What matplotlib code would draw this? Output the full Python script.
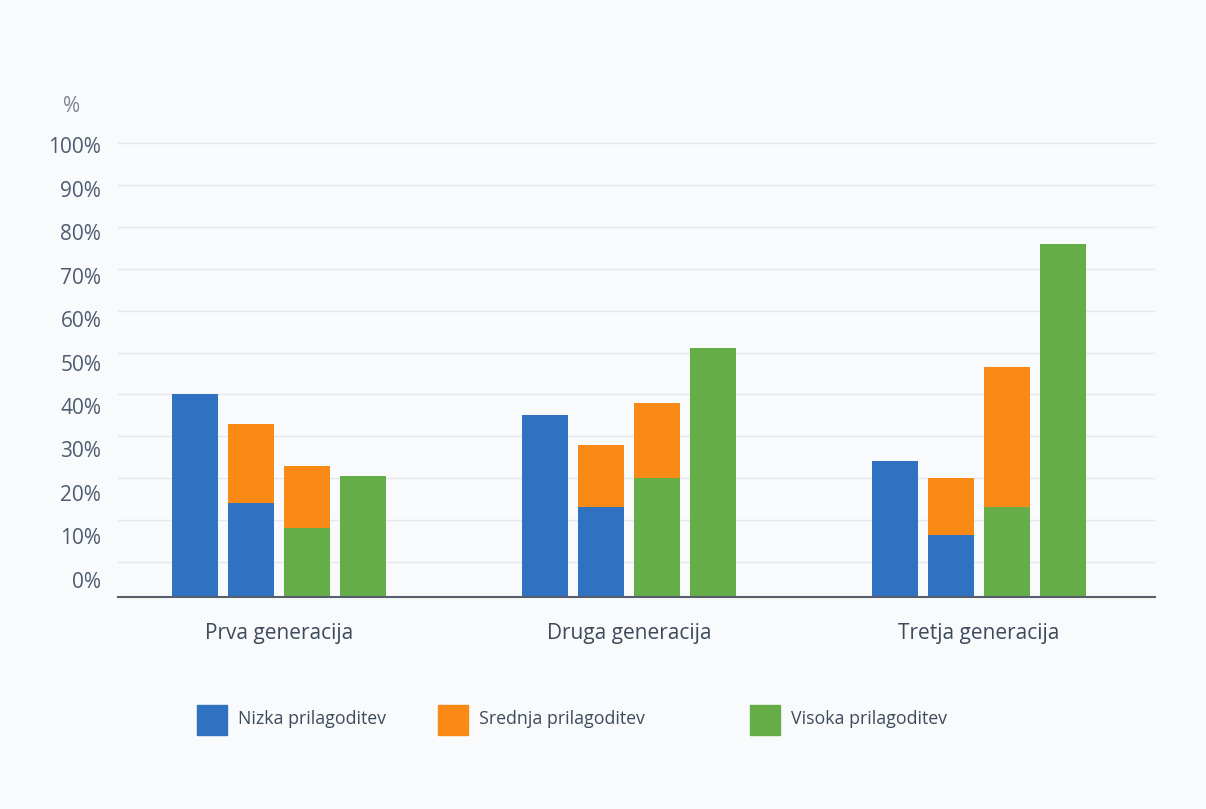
"""Prilagoditev po generacijah - grouped / stacked bar chart."""

import matplotlib.pyplot as plt
import numpy as np
from matplotlib.patches import Rectangle

plt.rcParams["font.family"] = ["Open Sans", "DejaVu Sans"]

generations = ["Prva generacija", "Druga generacija", "Tretja generacija"]
legend_labels = ["Nizka prilagoditev", "Srednja prilagoditev", "Visoka prilagoditev"]

# bar 1: nizka only
nizka = [40, 35, 24]
# bar 2: nizka (bottom) + srednja (top)
bar2_nizka = [14, 13, 6.5]
bar2_total = [33, 28, 20]
# bar 3: visoka (bottom) + srednja (top)
bar3_visoka = [8, 20, 13]
bar3_total = [23, 38, 46.5]
# bar 4: visoka only
visoka = [20.5, 51, 76]

y_ticks = list(range(0, 101, 10))

BLUE = "#2F72C1"
ORANGE = "#F98A16"
GREEN = "#65AE47"
BG = "#F9FAFB"
GRID = "#E4E7EB"
TEXT = "#4E5B70"

BASE = -8.4  # the axis line sits below the 0% gridline
step = 0.16
width = 0.13

fig = plt.figure(figsize=(12.06, 8.09), dpi=100, facecolor=BG)
ax = fig.add_axes([118 / 1206, 1 - 597 / 809, (1155 - 118) / 1206, (597 - 139) / 809])
ax.set_facecolor(BG)

x = np.arange(len(generations))
nizka = np.array(nizka)
bar2_nizka = np.array(bar2_nizka)
bar2_total = np.array(bar2_total)
bar3_visoka = np.array(bar3_visoka)
bar3_total = np.array(bar3_total)
visoka = np.array(visoka)

ax.bar(x - 1.5 * step, nizka - BASE, width, bottom=BASE, color=BLUE, zorder=3)
ax.bar(x - 0.5 * step, bar2_nizka - BASE, width, bottom=BASE, color=BLUE, zorder=3)
ax.bar(x - 0.5 * step, bar2_total - bar2_nizka, width, bottom=bar2_nizka, color=ORANGE, zorder=3)
ax.bar(x + 0.5 * step, bar3_visoka - BASE, width, bottom=BASE, color=GREEN, zorder=3)
ax.bar(x + 0.5 * step, bar3_total - bar3_visoka, width, bottom=bar3_visoka, color=ORANGE, zorder=3)
ax.bar(x + 1.5 * step, visoka - BASE, width, bottom=BASE, color=GREEN, zorder=3)

ax.set_xlim(-0.46, 2.503)
ax.set_ylim(BASE, 101)

# gridlines on major ticks, labels on minor ticks (drift slightly downward as in the original)
ax.set_yticks(y_ticks)
ax.set_yticklabels([])
ax.tick_params(axis="y", which="major", length=0)
ax.yaxis.grid(True, color=GRID, linewidth=1.0, zorder=0)
label_pos = [t - 0.5 - (100 - t) * 0.038 for t in y_ticks]
ax.set_yticks(label_pos, [f"{t}%" for t in y_ticks], minor=True)
ax.tick_params(axis="y", which="minor", length=0, pad=12, labelsize=15, labelcolor=TEXT)

ax.set_xticks(x, generations)
ax.tick_params(axis="x", length=0, pad=19, labelsize=15, labelcolor="#3D4A5C")

for side in ["top", "right", "left"]:
    ax.spines[side].set_visible(False)
ax.spines["bottom"].set_color("#56606D")
ax.spines["bottom"].set_linewidth(1.5)
ax.spines["bottom"].set_zorder(4)

fig.text(72 / 1206, 1 - 106 / 809, "%", ha="center", va="center", fontsize=15, color="#7C8696")

# legend, drawn by hand to keep the uneven spacing
legend_x = [197, 438, 750]
for lx, label, color in zip(legend_x, legend_labels, [BLUE, ORANGE, GREEN]):
    fig.patches.append(Rectangle((lx / 1206, 1 - 735 / 809), 30 / 1206, 30 / 809,
                                 transform=fig.transFigure, color=color))
    fig.text((lx + 41) / 1206, 1 - 719 / 809, label, ha="left", va="center",
             fontsize=12.8, color="#3D4A5C")

fig.savefig("out.png", dpi=100, facecolor=BG)
